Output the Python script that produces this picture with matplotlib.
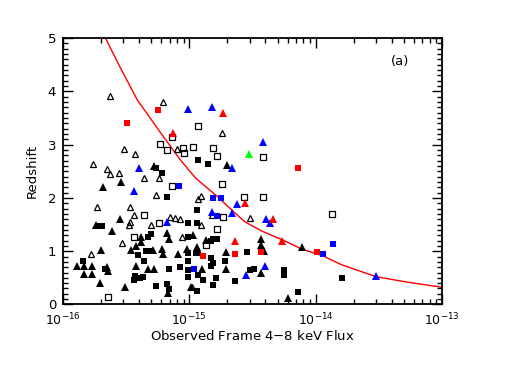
import numpy as np
import matplotlib
matplotlib.use("Agg")
import matplotlib.pyplot as plt
from matplotlib.ticker import LogLocator, MultipleLocator, NullFormatter

# log10 of observed 4-8 keV flux, and redshift, per source class
tri_filled_lf = [-15.28, -15.68, -15.54, -15.55, -15.74, -15.61, -15.38, -15.18, -15.16, -15.38,
                 -15.42, -15.46, -15.29, -15.22, -15.21, -15.09, -15.70, -15.89, -15.83, -15.77,
                 -15.42, -15.65, -15.64, -15.33, -15.28, -15.83, -15.77, -15.71, -14.99, -15.17,
                 -15.51, -14.70, -14.97, -14.87, -14.43, -14.43, -14.11, -15.02, -14.94, -14.92,
                 -14.71, -14.41, -14.90, -14.71, -14.43, -14.22]
tri_filled_z = [2.59, 2.21, 2.30, 1.60, 1.49, 1.37, 1.27, 1.34, 1.22, 1.18,
                1.10, 1.02, 1.02, 1.04, 0.95, 0.95, 1.02, 0.72, 0.72, 0.72,
                0.72, 0.71, 0.62, 0.66, 0.66, 0.57, 0.57, 0.41, 0.32, 0.21,
                0.32, 2.62, 1.30, 1.21, 1.22, 1.12, 1.08, 1.04, 1.07, 0.99,
                0.99, 1.01, 0.66, 0.66, 0.60, 0.12]

sq_filled_lf = [-15.26, -15.22, -15.18, -15.01, -15.71, -15.69, -15.33, -15.30, -15.01, -15.34,
                -15.31, -15.01, -15.84, -15.41, -15.36, -15.16, -15.01, -15.67, -15.07, -15.43,
                -15.39, -15.37, -15.44, -15.01, -15.01, -15.26, -15.18, -15.16, -14.94, -14.14,
                -14.93, -14.85, -14.94, -14.94, -14.83, -14.81, -14.78, -14.95, -14.83, -14.54,
                -14.81, -14.72, -14.83, -14.93, -14.89, -14.79, -14.81, -14.52, -14.49, -14.25,
                -14.25, -14.64, -13.79]
sq_filled_z = [2.56, 2.47, 2.01, 1.52, 1.47, 1.47, 1.27, 1.32, 1.27, 1.00,
               1.01, 0.96, 0.82, 0.93, 0.82, 0.66, 0.82, 0.66, 0.70, 0.53,
               0.49, 0.51, 0.46, 0.65, 0.51, 0.35, 0.38, 0.29, 0.25, 0.24,
               2.71, 2.63, 1.77, 1.52, 1.20, 1.22, 1.22, 0.96, 0.87, 0.99,
               0.78, 0.82, 0.72, 0.55, 0.46, 0.49, 0.37, 0.65, 0.66, 0.65,
               0.55, 0.45, 0.49]

tri_open_lf = [-15.63, -15.21, -15.10, -15.52, -15.43, -15.76, -15.65, -15.63, -15.56, -15.36,
               -15.24, -15.26, -15.73, -15.47, -15.44, -15.47, -15.15, -15.11, -15.07, -15.48,
               -15.30, -15.06, -15.53, -15.78, -14.74, -14.91, -14.93, -14.52, -14.91, -14.98,
               -14.82]
tri_open_z = [3.91, 3.79, 2.91, 2.91, 2.82, 2.64, 2.54, 2.45, 2.46, 2.37,
              2.37, 2.05, 1.83, 1.83, 1.68, 1.55, 1.64, 1.62, 1.60, 1.49,
              1.49, 1.26, 1.16, 0.95, 3.22, 2.04, 1.97, 1.62, 1.49, 0.32,
              1.68]

sq_open_lf = [-15.14, -15.23, -15.18, -15.05, -15.04, -15.14, -15.36, -15.24, -15.44, -15.64,
              -14.93, -14.97, -14.81, -14.78, -14.42, -14.74, -14.57, -14.42, -14.73, -14.78,
              -13.87, -14.87]
sq_open_z = [3.14, 3.01, 2.90, 2.93, 2.85, 2.22, 1.68, 1.53, 1.27, 0.14,
             3.35, 2.95, 2.93, 2.79, 2.77, 2.26, 2.01, 2.02, 1.65, 1.41,
             1.69, 1.12]

tri_blue_lf = [-15.01, -14.82, -15.40, -15.44, -15.18, -14.42, -14.66, -14.62, -14.82, -14.66,
               -14.39, -14.36, -14.40, -14.55, -13.52]
tri_blue_z = [3.66, 3.71, 2.57, 2.13, 1.54, 3.05, 2.56, 1.89, 1.74, 1.72,
              1.60, 1.52, 0.72, 0.55, 0.53]

sq_blue_lf = [-15.08, -14.81, -14.75, -14.78, -14.96, -13.86, -13.94]
sq_blue_z = [2.22, 2.00, 2.00, 1.66, 0.66, 1.13, 0.94]

tri_red_lf = [-15.13, -14.73, -14.56, -14.34, -14.64, -14.27]
tri_red_z = [3.21, 3.60, 1.90, 1.60, 1.20, 1.20]

sq_red_lf = [-15.25, -15.49, -14.14, -14.89, -14.64, -14.43, -13.99]
sq_red_z = [3.64, 3.40, 2.57, 0.91, 0.95, 0.99, 0.99]

tri_green_lf = [-14.53]
tri_green_z = [2.82]

# flux-limit curve
curve_lf = [-15.66, -15.55, -15.41, -15.23, -15.07, -14.95, -14.79, -14.69, -14.56, -14.42,
            -14.26, -14.11, -13.94, -13.80, -13.52, -13.25, -12.99]
curve_z = [4.98, 4.46, 3.83, 3.23, 2.71, 2.37, 2.05, 1.83, 1.55, 1.37,
           1.21, 1.04, 0.91, 0.75, 0.52, 0.41, 0.32]

x_ticks = [1e-16, 1e-15, 1e-14, 1e-13]


def flux(lf):
    return 10.0 ** np.asarray(lf)


def main():
    fig = plt.figure(figsize=(5.19, 3.83), dpi=100)
    ax = fig.add_axes([0.1214, 0.205, 0.7302, 0.6958])

    ax.plot(flux(curve_lf), curve_z, color="red", lw=1.0, zorder=1)

    ax.plot(flux(tri_open_lf), tri_open_z, ls="none", marker="^", ms=4.3,
            mfc="none", mec="black", mew=0.9)
    ax.plot(flux(sq_open_lf), sq_open_z, ls="none", marker="s", ms=3.8,
            mfc="none", mec="black", mew=0.9)
    ax.plot(flux(tri_filled_lf), tri_filled_z, ls="none", marker="^", ms=5.8,
            color="black", mew=0)
    ax.plot(flux(sq_filled_lf), sq_filled_z, ls="none", marker="s", ms=4.8,
            color="black", mew=0)
    ax.plot(flux(tri_blue_lf), tri_blue_z, ls="none", marker="^", ms=5.8,
            color="blue", mew=0)
    ax.plot(flux(sq_blue_lf), sq_blue_z, ls="none", marker="s", ms=4.8,
            color="blue", mew=0)
    ax.plot(flux(tri_red_lf), tri_red_z, ls="none", marker="^", ms=5.8,
            color="red", mew=0)
    ax.plot(flux(sq_red_lf), sq_red_z, ls="none", marker="s", ms=4.8,
            color="red", mew=0)
    ax.plot(flux(tri_green_lf), tri_green_z, ls="none", marker="^", ms=5.8,
            color="#00ff00", mew=0)

    ax.set_xscale("log")
    ax.set_xlim(1e-16, 1e-13)
    ax.set_ylim(0, 5)
    ax.set_xticks(x_ticks)
    ax.xaxis.set_minor_locator(LogLocator(base=10, subs=np.arange(2, 10), numticks=10))
    ax.xaxis.set_minor_formatter(NullFormatter())
    ax.yaxis.set_major_locator(MultipleLocator(1))
    ax.yaxis.set_minor_locator(MultipleLocator(0.1))

    ax.tick_params(which="both", direction="in", top=True, right=True,
                   labelsize=9.5, width=1.0)
    ax.tick_params(axis="x", pad=5, labelsize=9)
    ax.tick_params(axis="y", pad=5)
    ax.tick_params(which="major", length=7)
    ax.tick_params(which="minor", length=3.5)
    for sp in ax.spines.values():
        sp.set_linewidth(1.3)

    ax.set_xlabel("Observed Frame 4$-$8 keV Flux", fontsize=9.5, labelpad=1)
    ax.set_ylabel("Redshift", fontsize=9.5, labelpad=6)
    ax.text(0.889, 0.91, "(a)", transform=ax.transAxes, fontsize=9.5,
            ha="center", va="center")

    fig.savefig("out.png", dpi=100)


if __name__ == "__main__":
    main()
